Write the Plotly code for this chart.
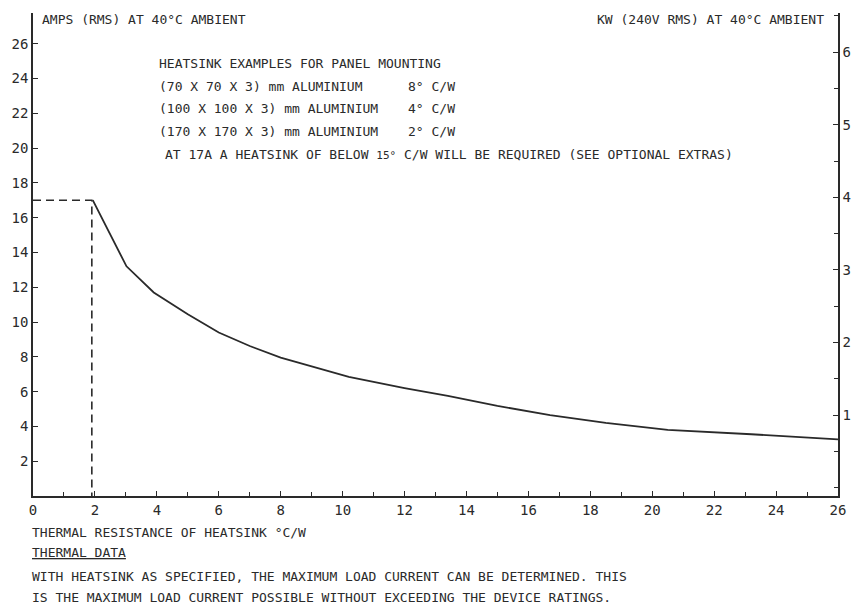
import plotly.graph_objects as go

# ---- data ----
resistance = [1.93, 2.6, 3.02, 3.9, 5.0, 6.0, 7.0, 8.0, 10.2, 12.0, 13.4, 15.0, 16.7, 18.5, 20.5, 23.2, 24.6, 26.0]
amps = [17.0, 14.7, 13.2, 11.7, 10.45, 9.4, 8.62, 7.95, 6.85, 6.2, 5.75, 5.18, 4.65, 4.2, 3.8, 3.55, 3.38, 3.25]
limit_x = [0, 1.9, 1.9]
limit_y = [17, 17, 0]

x_ticks = list(range(0, 27, 2))
y_ticks = list(range(2, 27, 2))
kw_ticks = [1, 2, 3, 4, 5, 6]

left_title = "AMPS (RMS) AT 40°C AMBIENT"
right_title = "KW (240V RMS) AT 40°C AMBIENT"
examples_title = "HEATSINK EXAMPLES FOR PANEL MOUNTING"
examples = ["(70 X 70 X 3) mm ALUMINIUM", "(100 X 100 X 3) mm ALUMINIUM", "(170 X 170 X 3) mm ALUMINIUM"]
example_ratings = ["8", "4", "2"]
note = "AT 17A A HEATSINK OF BELOW <span style='font-size:11px'>15°</span> C/W WILL BE REQUIRED (SEE OPTIONAL EXTRAS)"
x_title = "THERMAL RESISTANCE OF HEATSINK °C/W"
data_title = "THERMAL DATA"
data_lines = ["WITH HEATSINK AS SPECIFIED, THE MAXIMUM LOAD CURRENT CAN BE DETERMINED. THIS",
              "IS THE MAXIMUM LOAD CURRENT POSSIBLE WITHOUT EXCEEDING THE DEVICE RATINGS."]

kw = [a * 240 / 1000 for a in amps]

INK = "#2a2a2a"
FONT = "DejaVu Sans Mono"
W, H = 852, 606
L, R, T, B = 33, 14, 13, 110
PW, PH = W - L - R, H - T - B


def px(xp):
    return (xp - L) / PW


def py(yp):
    return (H - B - yp) / PH


fig = go.Figure()
fig.add_trace(go.Scatter(x=limit_x, y=limit_y, mode="lines",
                         line=dict(color=INK, width=1.6, dash="8px,5px"),
                         hoverinfo="skip", showlegend=False))
fig.add_trace(go.Scatter(x=resistance, y=amps, mode="lines",
                         line=dict(color=INK, width=1.8), showlegend=False))
fig.add_trace(go.Scatter(x=resistance, y=kw, mode="lines", yaxis="y2",
                         line=dict(color="rgba(0,0,0,0)", width=0),
                         hoverinfo="skip", showlegend=False))

ann = []


def text(s, xp, yp, size=13, anchor="left"):
    ann.append(dict(text=s, x=px(xp), y=py(yp), xref="paper", yref="paper",
                    xanchor=anchor, yanchor="middle", showarrow=False,
                    font=dict(family=FONT, size=size, color=INK)))


text(left_title, 40, 19)
text(right_title, 826, 19, anchor="right")
text(examples_title, 157, 63)
for i, (e, r) in enumerate(zip(examples, example_ratings)):
    yy = 86 + i * 22.5
    text(e, 157, yy)
    text(r + "° C/W", 457, yy, anchor="right")
text(note, 163, 154)
text(x_title, 30, 532)
text("<u>" + data_title + "</u>", 30, 552)
text(data_lines[0], 30, 576)
text(data_lines[1], 30, 597)

fig.update_layout(
    width=W, height=H,
    margin=dict(l=L, r=R, t=T, b=B, pad=0),
    paper_bgcolor="white", plot_bgcolor="white",
    font=dict(family=FONT, size=14, color=INK),
    annotations=ann,
    xaxis=dict(range=[0, 26], tickvals=x_ticks, ticks="inside", ticklen=5,
               tickwidth=1.3, tickcolor=INK, showline=True, linecolor=INK,
               linewidth=1.6, showgrid=False, zeroline=False, automargin=False,
               minor=dict(dtick=1, ticks="inside", ticklen=4, tickcolor=INK, tickwidth=1.2, showgrid=False),
               tickfont=dict(family=FONT, size=14, color=INK)),
    yaxis=dict(range=[0, 27.76], tickvals=y_ticks, ticks="inside", ticklen=5,
               tickwidth=1.3, tickcolor=INK, showline=True, linecolor=INK,
               linewidth=1.6, showgrid=False, zeroline=False, automargin=False,
               tickfont=dict(family=FONT, size=14, color=INK)),
    yaxis2=dict(range=[-0.116, 6.54], overlaying="y", side="right", tickvals=kw_ticks,
                ticks="inside", ticklen=5, tickwidth=1.3, tickcolor=INK,
                showline=True, linecolor=INK, linewidth=1.6, showgrid=False,
                zeroline=False, automargin=False,
                minor=dict(dtick=0.5, ticks="inside", ticklen=4, tickcolor=INK, tickwidth=1.2, showgrid=False),
                tickfont=dict(family=FONT, size=14, color=INK)),
)

fig.write_html("out.html", config={"displayModeBar": False},
               post_script="document.body.style.margin='0px';document.body.style.overflow='hidden';")
